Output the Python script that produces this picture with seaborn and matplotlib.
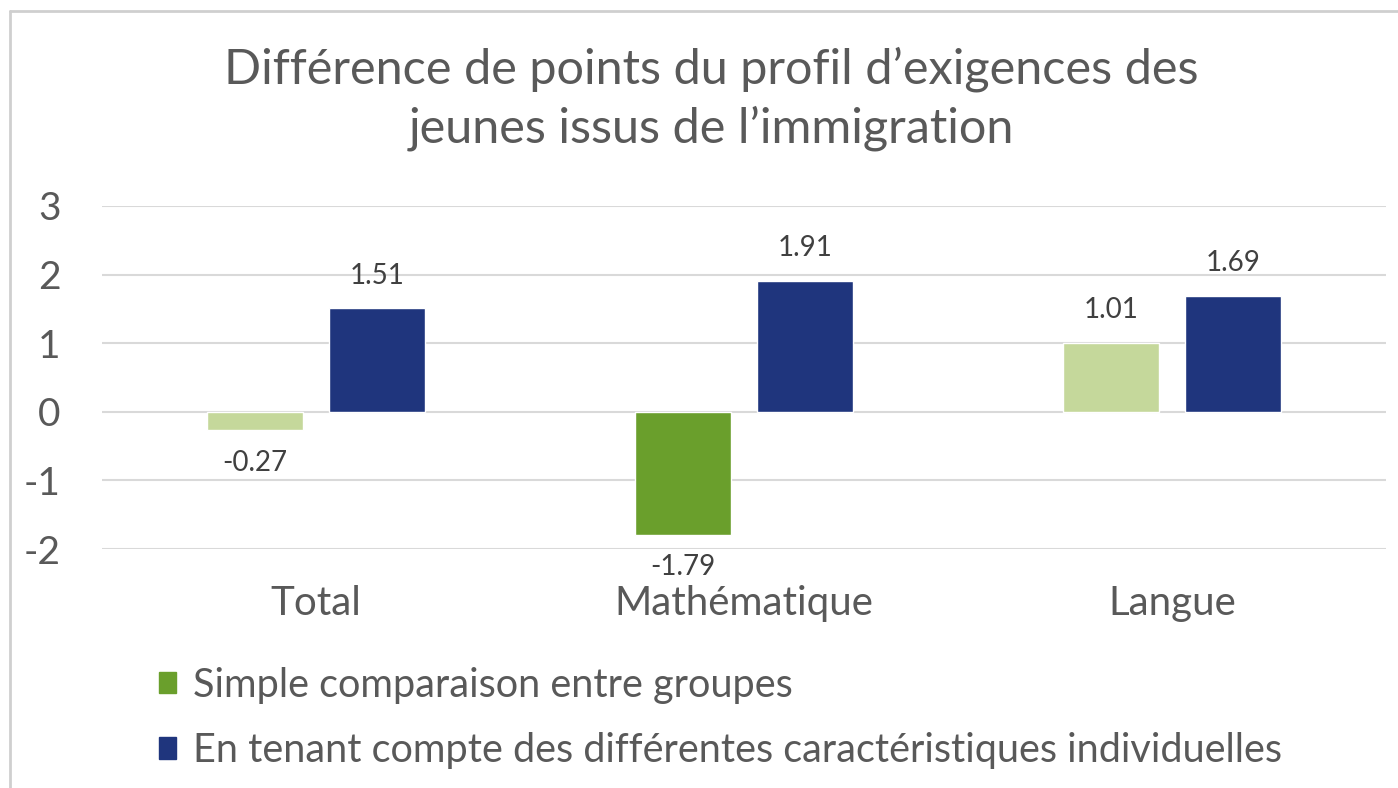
import pandas as pd
import seaborn as sns
import matplotlib.pyplot as plt
from matplotlib.lines import Line2D

categories = ["Total", "Mathématique", "Langue"]
series_names = ["Simple comparaison entre groupes",
                "En tenant compte des différentes caractéristiques individuelles"]
simple = [-0.27, -1.79, 1.01]
adjusted = [1.51, 1.91, 1.69]
# only the maths gap is drawn in the strong green
simple_strong = [False, True, False]

title = "Différence de points du profil d’exigences des\njeunes issus de l’immigration"

green_dark = "#6a9f2c"
green_light = "#c5d89b"
navy = "#1f357d"
text_grey = "#595959"
grid_grey = "#d9d9d9"

df = pd.DataFrame({
    "cat": categories * 2,
    "serie": [series_names[0]] * 3 + [series_names[1]] * 3,
    "val": simple + adjusted,
})

sns.set_theme(style="white")
plt.rcParams["font.family"] = ["Lato", "DejaVu Sans"]
plt.rcParams["axes.unicode_minus"] = False

fig = plt.figure(figsize=(13.98, 7.88), dpi=100)
ax = fig.add_axes([102 / 1398, 1 - 549 / 788, 1284 / 1398, 343 / 788])

sns.barplot(data=df, x="cat", y="val", hue="serie", order=categories,
            hue_order=series_names,
            palette={series_names[0]: green_dark, series_names[1]: navy},
            width=0.57, gap=0.22, saturation=1, legend=False, ax=ax)

for patch, strong in zip(ax.containers[0], simple_strong):
    patch.set_facecolor(green_dark if strong else green_light)

for cont in ax.containers:
    ax.bar_label(cont, fmt="%.2f", padding=14, fontsize=20, color="#404040")

ax.set_ylim(-2, 3)
ax.set_yticks(range(-2, 4))
ax.set_xlim(-0.5, 2.5)
ax.grid(axis="y", color=grid_grey, linewidth=1.5)
ax.set_axisbelow(True)
sns.despine(ax=ax, left=True, bottom=True)
ax.set_xlabel("")
ax.set_ylabel("")
ax.tick_params(axis="y", length=0, pad=30, labelsize=28, labelcolor=text_grey)
ax.tick_params(axis="x", length=0, pad=26, labelsize=29, labelcolor=text_grey)

fig.text(0.509, 1 - 99 / 788, title, ha="center", va="center", fontsize=35,
         color=text_grey, linespacing=1.36)

handles = [plt.Rectangle((0, 0), 1, 1, color=green_dark),
           plt.Rectangle((0, 0), 1, 1, color=navy)]
fig.legend(handles, series_names, loc="upper left",
           bbox_to_anchor=(123 / 1398, 1 - 631 / 788), frameon=False,
           fontsize=28.5, labelcolor=text_grey, handlelength=0.45,
           handleheight=0.45, handletextpad=0.43, labelspacing=0.72)

# chart frame, only top and left edges are inside the crop
fig.add_artist(Line2D([10 / 1398, 10 / 1398], [0, 1 - 11 / 788],
                      transform=fig.transFigure, color="#cfcfcf", linewidth=2))
fig.add_artist(Line2D([10 / 1398, 1], [1 - 11 / 788, 1 - 11 / 788],
                      transform=fig.transFigure, color="#cfcfcf", linewidth=2))

fig.savefig("out.png", dpi=100, facecolor="white")
